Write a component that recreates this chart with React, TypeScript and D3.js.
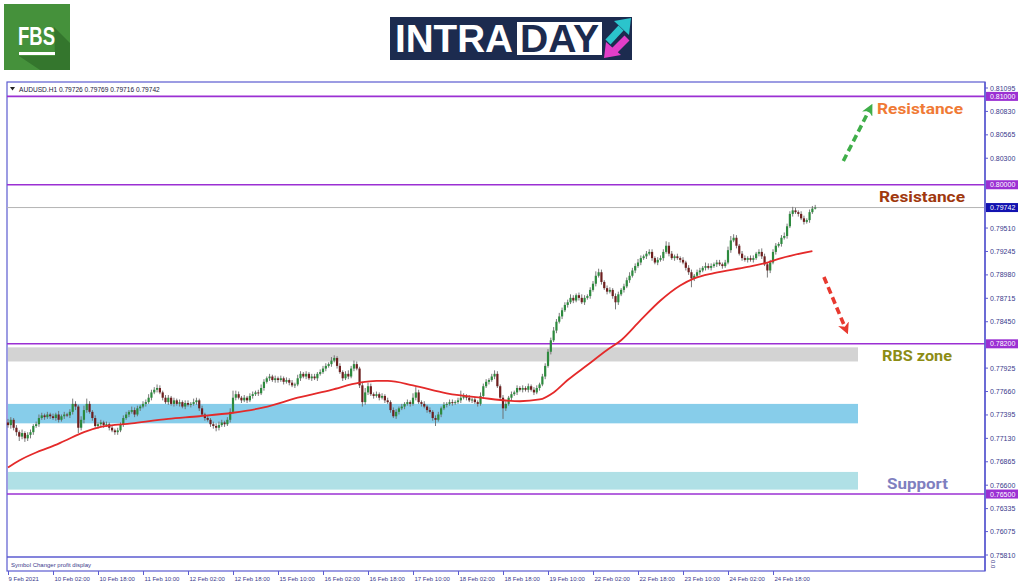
import React from 'react';
import * as d3 from 'd3';

// ---------- DATA ----------
const firstOpen = 0.7731;
const closes = [
  0.7728,0.7734,0.7725,0.7720,0.7715,0.7719,0.7713,0.7717,0.7720,0.7727,0.7729,0.7736,0.7739,0.7737,0.7740,0.7738,
  0.7736,0.7740,0.7734,0.7738,0.7740,0.7739,0.7743,0.7752,0.7749,0.7725,0.7734,0.7745,0.7752,0.7743,0.7736,0.7727,
  0.7729,0.7731,0.7728,0.7729,0.7725,0.7722,0.7720,0.7722,0.7729,0.7736,0.7740,0.7743,0.7745,0.7740,0.7747,0.7749,
  0.7752,0.7754,0.7759,0.7765,0.7768,0.7770,0.7765,0.7759,0.7754,0.7759,0.7752,0.7756,0.7752,0.7754,0.7749,0.7753,
  0.7751,0.7752,0.7754,0.7756,0.7747,0.7740,0.7736,0.7734,0.7729,0.7727,0.7725,0.7728,0.7731,0.7729,0.7734,0.7743,
  0.7759,0.7763,0.7759,0.7756,0.7759,0.7756,0.7761,0.7763,0.7765,0.7764,0.7770,0.7777,0.7781,0.7783,0.7779,0.7781,
  0.7779,0.7781,0.7777,0.7779,0.7776,0.7773,0.7774,0.7781,0.7786,0.7783,0.7786,0.7781,0.7783,0.7781,0.7786,0.7788,
  0.7792,0.7795,0.7797,0.7801,0.7804,0.7795,0.7788,0.7781,0.7786,0.7783,0.7792,0.7797,0.7792,0.7773,0.7754,0.7765,
  0.7772,0.7763,0.7761,0.7763,0.7759,0.7761,0.7756,0.7754,0.7745,0.7738,0.7743,0.7747,0.7749,0.7752,0.7754,0.7752,
  0.7759,0.7765,0.7754,0.7752,0.7749,0.7745,0.7743,0.7736,0.7734,0.7740,0.7747,0.7751,0.7752,0.7754,0.7753,0.7754,
  0.7756,0.7759,0.7761,0.7759,0.7756,0.7757,0.7754,0.7752,0.7761,0.7772,0.7777,0.7779,0.7783,0.7786,0.7772,0.7759,
  0.7747,0.7752,0.7759,0.7763,0.7765,0.7770,0.7768,0.7770,0.7768,0.7772,0.7768,0.7765,0.7770,0.7774,0.7783,0.7795,
  0.7811,0.7824,0.7835,0.7845,0.7851,0.7858,0.7864,0.7867,0.7872,0.7869,0.7875,0.7872,0.7867,0.7872,0.7874,0.7881,
  0.7888,0.7897,0.7901,0.7890,0.7883,0.7879,0.7881,0.7874,0.7867,0.7876,0.7881,0.7885,0.7892,0.7897,0.7903,0.7908,
  0.7912,0.7917,0.7919,0.7922,0.7924,0.7917,0.7912,0.7915,0.7917,0.7924,0.7931,0.7922,0.7917,0.7919,0.7917,0.7915,
  0.7912,0.7906,0.7901,0.7894,0.7897,0.7901,0.7903,0.7906,0.7908,0.7906,0.7908,0.7910,0.7912,0.7910,0.7908,0.7912,
  0.7926,0.7937,0.7940,0.7931,0.7922,0.7917,0.7915,0.7917,0.7915,0.7917,0.7922,0.7924,0.7919,0.7910,0.7903,0.7912,
  0.7924,0.7931,0.7933,0.7940,0.7942,0.7953,0.7967,0.7971,0.7969,0.7967,0.7962,0.7958,0.7960,0.7969,0.7973,0.79742,
];
// wick lengths in pips (0.0001)
const upperWick = [
  4,3,2,3,2,4,2,3,3,2,3,4,3,2,3,2,
  3,2,4,2,3,2,3,6,3,2,4,5,6,3,2,3,
  2,3,2,3,2,3,2,3,2,3,3,2,4,3,3,2,
  3,3,4,3,3,4,3,2,3,3,2,3,2,3,2,3,
  3,2,4,3,2,3,2,3,2,3,3,4,3,2,3,4,
  8,4,3,2,3,2,3,3,2,3,4,3,2,3,2,3,
  2,3,2,3,2,3,2,4,3,2,3,2,3,3,2,3,
  3,3,2,4,3,2,3,2,3,4,3,4,3,2,4,5,
  4,3,2,3,2,3,2,3,2,3,3,2,3,2,3,2,
  5,6,3,2,3,2,3,2,3,3,2,3,2,3,3,2,
  3,8,3,2,3,2,3,2,4,3,3,2,3,4,3,2,
  3,3,2,3,2,3,2,3,2,3,2,3,3,2,3,3,
  3,3,4,3,4,3,3,3,4,3,2,3,4,3,2,3,
  3,5,4,3,2,3,3,2,3,3,2,3,3,4,3,3,
  4,3,2,3,3,3,2,3,3,3,5,4,3,2,3,2,
  3,2,3,3,2,3,3,2,4,3,3,2,3,3,2,3,
  4,5,4,3,2,3,3,2,3,3,2,3,4,3,2,3,
  3,3,2,3,4,3,3,4,3,2,3,3,2,3,3,3,
];
const lowerWick = [
  3,4,3,4,5,3,4,3,4,3,2,3,2,3,2,3,
  2,3,3,2,3,2,3,3,4,6,3,4,3,2,3,2,
  3,2,3,2,3,2,3,3,2,3,2,3,2,3,2,3,
  2,3,2,3,2,3,2,3,2,3,2,3,2,3,2,3,
  2,3,2,3,3,2,3,2,3,3,4,3,2,3,2,3,
  2,3,2,3,2,3,2,3,2,3,2,3,2,3,2,3,
  3,2,3,2,3,2,3,2,3,2,3,2,3,2,3,2,
  2,3,2,3,2,3,2,3,2,3,2,3,2,3,5,3,
  3,2,3,2,3,2,3,2,3,2,3,3,2,3,2,3,
  2,3,2,3,2,3,2,3,7,2,3,2,3,2,3,2,
  2,3,2,3,2,3,2,3,2,3,2,3,2,3,2,3,
  12,3,2,3,2,3,2,3,2,3,2,3,2,3,2,3,
  2,3,2,3,2,3,2,3,2,3,2,3,2,3,2,3,
  2,3,2,3,2,3,2,3,8,3,2,3,2,3,2,3,
  2,3,2,3,2,3,2,3,2,3,2,3,2,3,2,3,
  2,3,3,10,3,2,3,2,3,2,3,2,3,2,3,2,
  2,3,2,3,2,3,2,3,2,3,2,3,3,2,8,3,
  2,3,2,3,2,3,2,3,2,3,2,3,2,3,2,1,
];

// moving average (bar index, price)
const maBars = [0,4,10,15,20,27,33,44,57,68,80,91,103,115,125,131,135,144,156,168,182,189,194,199,206,213,218,225,232,239,244,251,263,270,275,286];
const maValues = [0.7680,0.7688,0.7697,0.7703,0.7710,0.7720,0.7726,0.7730,0.7735,0.7738,0.7742,0.7748,0.7759,0.7768,0.7776,0.7778,0.7778,0.7773,0.7764,0.7759,0.7755,0.7757,0.7765,0.7779,0.7796,0.7813,0.7824,0.7847,0.7869,0.7886,0.7894,0.7900,0.7907,0.7912,0.7917,0.7925];

const priceTicks = ["0.81095","0.80830","0.80565","0.80300","0.79510","0.79245","0.78980","0.78715","0.78450","0.77925","0.77660","0.77395","0.77130","0.76865","0.76600","0.76335","0.76075","0.75810"];
const timeLabels = ["9 Feb 2021","10 Feb 02:00","10 Feb 18:00","11 Feb 10:00","12 Feb 02:00","12 Feb 18:00","15 Feb 10:00","16 Feb 02:00","16 Feb 18:00","17 Feb 10:00","18 Feb 02:00","18 Feb 18:00","19 Feb 10:00","22 Feb 02:00","22 Feb 18:00","23 Feb 10:00","24 Feb 02:00","24 Feb 18:00"];
const timeLabelStep = 16;

const levelPrices = [0.81000, 0.80000, 0.78200, 0.76500];
const currentPrice = 0.79742;
const zoneLows = [0.7800, 0.7730, 0.7655];
const zoneHighs = [0.7816, 0.7752, 0.7675];
const legendText = "AUDUSD.H1  0.79726 0.79769 0.79716 0.79742";

const labelTexts = ["Resistance", "Resistance", "RBS zone", "Support"];
const labelPrices = [0.80801, 0.79805, 0.78006, 0.76557];

// ---------- LAYOUT / STYLE ----------
const W = 1024, H = 587;
const LEFT = 7, RIGHT = 985, TOP = 82, MAIN_BOTTOM = 557, SUB_BOTTOM = 571;
const PIP = 0.0001;
const FRAME = '#5b5bd0';
const AXIS_TEXT = '#3a3a8c';
const LEVEL = '#9b30d3';
const zoneColors = ['#d3d3d3', '#87cdea', '#b0e0e6'];
const labelColors = ['#f07a35', '#a0380e', '#8c8c14', '#7f7fbf'];
const labelX = [877, 879, 882, 887];
const labelW = [86, 86, 70, 61];
const axisFont = '"Liberation Sans", Arial, sans-serif';

export default function App() {
  const x = d3.scaleLinear().domain([0, closes.length - 1]).range([8, 815.2]);
  const y = d3.scaleLinear().domain([0.75810, 0.81095]).range([555, 88]);

  const candles = closes.map((c, i) => {
    const o = i === 0 ? firstOpen : closes[i - 1];
    const hi = Math.max(o, c) + upperWick[i] * PIP;
    const lo = Math.min(o, c) - lowerWick[i] * PIP;
    return { o, c, hi, lo, i };
  });

  const maLine = d3.line<number>()
    .x((_, k) => x(maBars[k]))
    .y((v) => y(v))
    .curve(d3.curveMonotoneX)(maValues) || '';

  const upFrom = [x(297), y(0.80269)];
  const upTo = [x(306.6), y(0.80869)];
  const dnFrom = [x(290.1), y(0.78956)];
  const dnTo = [x(298), y(0.78356)];

  return (
    <svg width={W} height={H} style={{ position: 'fixed', left: 0, top: 0, background: '#fff' }}>
      <defs>
        <marker id="headG" viewBox="0 0 10 10" refX="6" refY="5" markerWidth="3.2" markerHeight="3.2" orient="auto">
          <path d="M0,0 L10,5 L0,10 L3,5 Z" fill="#3fae49" />
        </marker>
        <marker id="headR" viewBox="0 0 10 10" refX="6" refY="5" markerWidth="3.2" markerHeight="3.2" orient="auto">
          <path d="M0,0 L10,5 L0,10 L3,5 Z" fill="#e8392f" />
        </marker>
      </defs>
      <rect x={0} y={0} width={W} height={H} fill="#fff" />

      {/* FBS logo */}
      <g>
        <rect x={4} y={4} width={66} height={66} fill="#45913b" />
        <polygon points="54,27 70,43 70,70 40,70 19,56 55,56" fill="#2f6f2b" opacity={0.8} />
        <text x={18} y={45} fill="#fff" fontFamily='"Liberation Sans", Arial, sans-serif' fontWeight="bold" fontSize={26} textLength={37} lengthAdjust="spacingAndGlyphs">FBS</text>
        <rect x={19} y={52} width={36} height={3} fill="#fff" />
      </g>

      {/* INTRADAY logo */}
      <g>
        <rect x={390} y={17} width={242} height={43} fill="#1c2b4f" />
        <rect x={517} y={22} width={85} height={33} fill="#fff" />
        <text x={395} y={52} fill="#fff" fontFamily='"Liberation Sans", Arial, sans-serif' fontWeight="bold" fontSize={38} textLength={118} lengthAdjust="spacingAndGlyphs">INTRA</text>
        <text x={520} y={52} fill="#1c2b4f" fontFamily='"Liberation Sans", Arial, sans-serif' fontWeight="bold" fontSize={38} textLength={79} lengthAdjust="spacingAndGlyphs">DAY</text>
        <line x1={608} y1={42} x2={621} y2={28} stroke="#2bc4cc" strokeWidth={7} />
        <polygon points="614,21 631,18 629,35" fill="#2bc4cc" />
        <line x1={627} y1={38} x2={614} y2={51} stroke="#e23ec8" strokeWidth={7} />
        <polygon points="604,58 606,42 621,55" fill="#e23ec8" />
      </g>

      {/* chart frame */}
      <rect x={LEFT} y={TOP} width={RIGHT - LEFT} height={SUB_BOTTOM - TOP} fill="#fff" stroke={FRAME} strokeWidth={1.2} />
      <line x1={LEFT} x2={RIGHT} y1={MAIN_BOTTOM} y2={MAIN_BOTTOM} stroke={FRAME} strokeWidth={1.5} />

      {/* zones */}
      {zoneLows.map((lo, k) => (
        <rect key={'z' + k} x={LEFT + 1} y={y(zoneHighs[k])} width={858 - LEFT - 1} height={y(lo) - y(zoneHighs[k])} fill={zoneColors[k]} />
      ))}

      {/* current price line */}
      <line x1={LEFT} x2={RIGHT} y1={y(currentPrice)} y2={y(currentPrice)} stroke="#b4b4b4" strokeWidth={1} />

      {/* level lines */}
      {levelPrices.map((p, k) => (
        <line key={'l' + k} x1={LEFT} x2={RIGHT} y1={y(p)} y2={y(p)} stroke={LEVEL} strokeWidth={1.6} />
      ))}

      {/* candles */}
      {candles.map((d) => {
        const cx = x(d.i);
        const bull = d.c >= d.o;
        const top = y(Math.max(d.o, d.c));
        const bot = y(Math.min(d.o, d.c));
        return (
          <g key={'c' + d.i}>
            <line x1={cx} x2={cx} y1={y(d.hi)} y2={y(d.lo)} stroke="#6a6a6a" strokeWidth={0.9} />
            <rect x={cx - 1.1} y={top} width={2.2} height={Math.max(1, bot - top)} fill={bull ? '#2d8a3e' : '#6e1f1f'} />
          </g>
        );
      })}

      {/* moving average */}
      <path d={maLine} fill="none" stroke="#e42a2a" strokeWidth={1.8} />

      {/* legend */}
      <path d="M10,87 L15,87 L12.5,90.5 Z" fill="#222" />
      <text x={19} y={91.5} fontFamily={axisFont} fontSize={6.6} fill="#1a1a3a">{legendText}</text>
      <text x={11} y={566.5} fontFamily={axisFont} fontSize={6} fill={AXIS_TEXT}>Symbol Changer profit display</text>

      {/* right axis */}
      <line x1={RIGHT} x2={RIGHT} y1={TOP} y2={SUB_BOTTOM} stroke={FRAME} strokeWidth={1.5} />
      {priceTicks.map((t) => {
        const yy = y(+t);
        return (
          <g key={'p' + t}>
            <line x1={RIGHT} x2={RIGHT + 3} y1={yy} y2={yy} stroke={FRAME} />
            <text x={990} y={yy + 2.5} fontFamily={axisFont} fontSize={7} fill={AXIS_TEXT}>{t}</text>
          </g>
        );
      })}
      {levelPrices.map((p, k) => (
        <g key={'lp' + k}>
          <rect x={RIGHT + 1} y={y(p) - 4.5} width={32} height={9} fill={LEVEL} />
          <text x={990} y={y(p) + 2.5} fontFamily={axisFont} fontSize={7} fill="#fff">{p.toFixed(5)}</text>
        </g>
      ))}
      <rect x={RIGHT + 1} y={y(currentPrice) - 4.5} width={32} height={9} fill="#1212b0" />
      <text x={990} y={y(currentPrice) + 2.5} fontFamily={axisFont} fontSize={7} fill="#fff">{currentPrice.toFixed(5)}</text>
      <text transform={`translate(991,560) rotate(90)`} fontFamily={axisFont} fontSize={6} fill={AXIS_TEXT}>0.0</text>

      {/* time axis */}
      {timeLabels.map((t, k) => {
        const xx = Math.round(x(k * timeLabelStep)) + 0.5;
        return (
          <g key={'t' + k}>
            <line x1={xx} x2={xx} y1={SUB_BOTTOM} y2={SUB_BOTTOM + 4} stroke={FRAME} />
            <text x={xx + (k === 0 ? 0 : 1)} y={581} fontFamily={axisFont} fontSize={6} fill={AXIS_TEXT}>{t}</text>
          </g>
        );
      })}

      {/* arrows */}
      <line x1={upFrom[0]} y1={upFrom[1]} x2={upTo[0]} y2={upTo[1]} stroke="#3fae49" strokeWidth={3.6} strokeDasharray="7,4" markerEnd="url(#headG)" />
      <line x1={dnFrom[0]} y1={dnFrom[1]} x2={dnTo[0]} y2={dnTo[1]} stroke="#e8392f" strokeWidth={3.6} strokeDasharray="7,4" markerEnd="url(#headR)" />

      {/* labels */}
      {labelTexts.map((t, k) => (
        <text key={'a' + k} x={labelX[k]} y={y(labelPrices[k])} fill={labelColors[k]} fontFamily='Roboto, "Open Sans", sans-serif' fontWeight="bold" fontSize={15.5} textLength={labelW[k]} lengthAdjust="spacingAndGlyphs">{t}</text>
      ))}
    </svg>
  );
}
